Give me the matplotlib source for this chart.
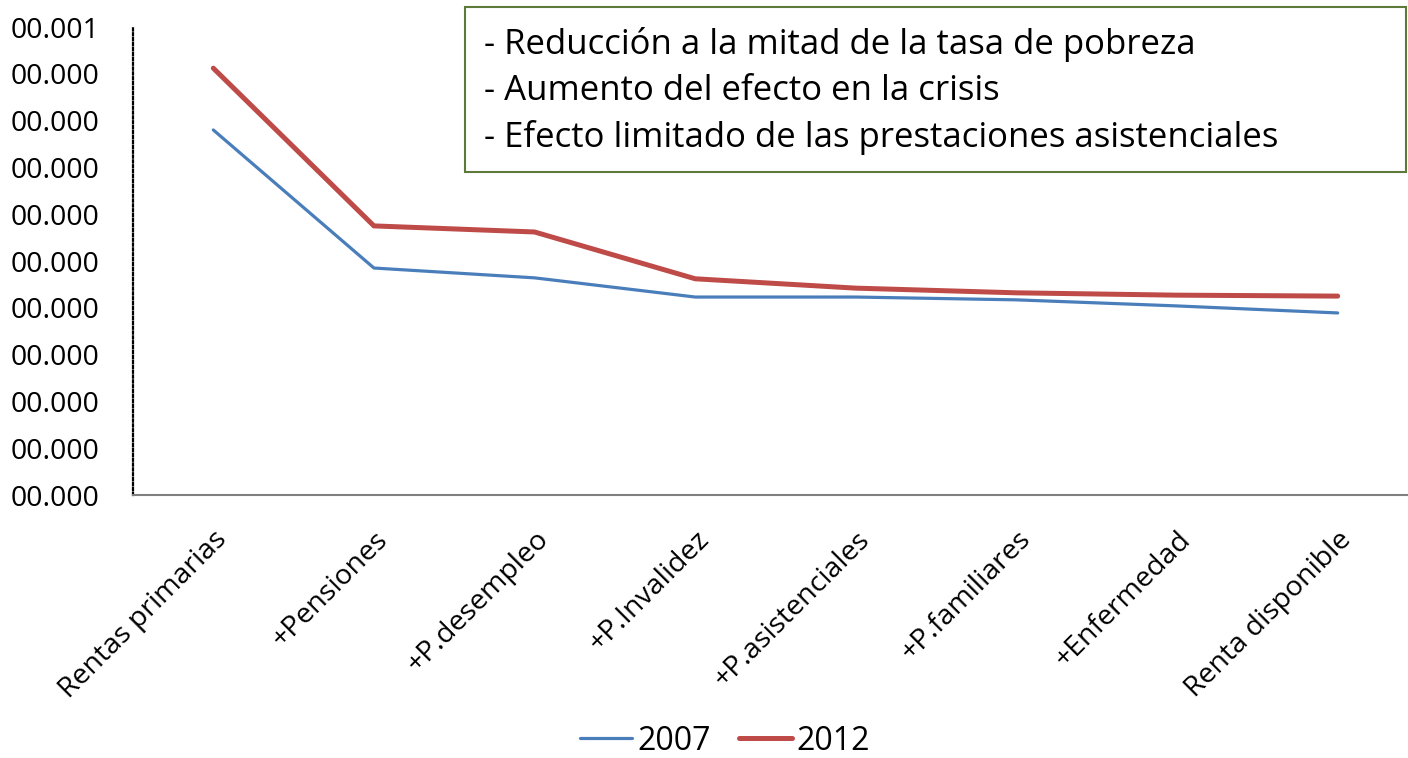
import matplotlib.pyplot as plt
from matplotlib.patches import Rectangle

# Data
categories = ["Rentas primarias", "+Pensiones", "+P.desempleo", "+P.Invalidez",
              "+P.asistenciales", "+P.familiares", "+Enfermedad", "Renta disponible"]
y2007 = [7.80, 4.85, 4.64, 4.23, 4.23, 4.17, 4.04, 3.89]
y2012 = [9.12, 5.75, 5.62, 4.62, 4.42, 4.32, 4.27, 4.25]
ytick_values = list(range(0, 11))
ytick_labels = ["00.000"] * 10 + ["00.001"]
notes = ["- Reducción a la mitad de la tasa de pobreza",
         "- Aumento del efecto en la crisis",
         "- Efecto limitado de las prestaciones asistenciales"]

plt.rcParams['font.family'] = ['Open Sans', 'DejaVu Sans']

W, H = 1408, 758
fig = plt.figure(figsize=(W / 100, H / 100), dpi=100)
ax = fig.add_axes([133 / W, 1 - 495 / H, 1285 / W, 468 / H])

x = list(range(len(categories)))
ax.plot(x, y2007, color='#4A7EBB', lw=2.3, label='2007', solid_capstyle='round')
ax.plot(x, y2012, color='#BE4B48', lw=3.6, label='2012', solid_capstyle='round')

ax.set_xlim(-0.5, len(categories) - 0.5)
ax.set_ylim(0, 10)
ax.set_yticks(ytick_values)
ax.set_yticklabels(ytick_labels, fontsize=20.5)
ax.set_xticks(x)
ax.set_xticklabels(categories, rotation=45, ha='right', rotation_mode='anchor', fontsize=20.5)
ax.tick_params(length=0)
ax.tick_params(axis='x', pad=22)
ax.tick_params(axis='y', pad=24)

ax.spines['top'].set_visible(False)
ax.spines['right'].set_visible(False)
ax.spines['left'].set_linestyle((0, (1, 1.2)))
ax.spines['left'].set_linewidth(1.6)
ax.spines['bottom'].set_color('#808080')
ax.spines['bottom'].set_linewidth(1.5)

# Text box with notes
fig.patches.append(Rectangle((465 / W, 1 - 172 / H), 941 / W, 165 / H, transform=fig.transFigure,
                             facecolor='white', edgecolor='#5E7A3B', lw=1.5, zorder=3))
fig.text(484 / W, 1 - 91 / H, "\n".join(notes), fontsize=25, va='center', ha='left',
         linespacing=1.47, zorder=4)

leg = fig.legend(loc='center', bbox_to_anchor=(725 / W, 1 - 741 / H), ncol=2, frameon=False,
                 fontsize=23, handlelength=1.65, handletextpad=0.15, columnspacing=0.9,
                 borderpad=0)

plt.savefig("out.png", dpi=100)
